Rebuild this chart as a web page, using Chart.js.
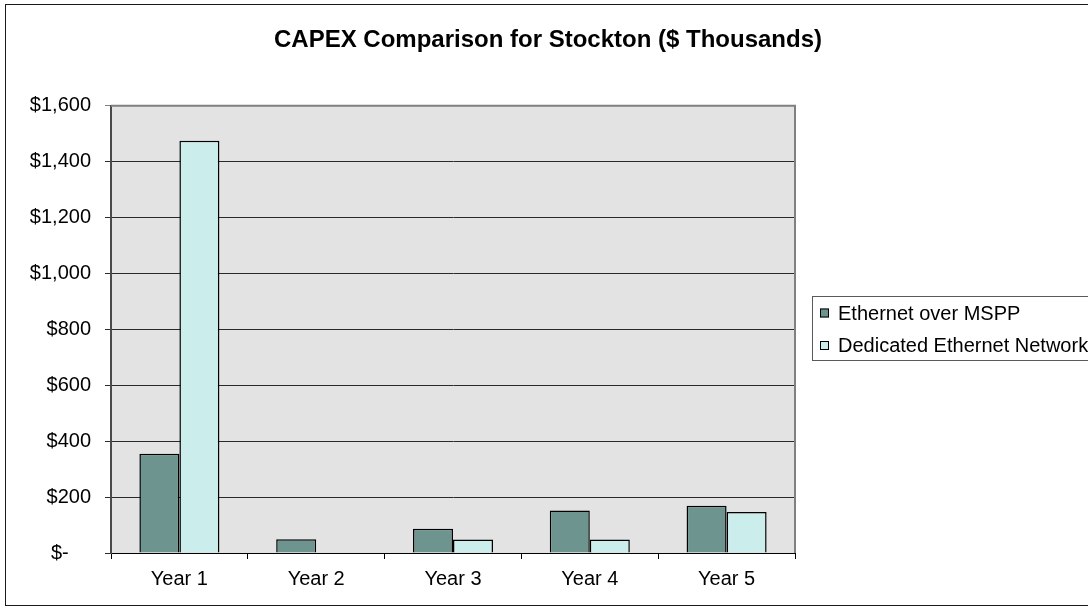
<!DOCTYPE html>
<html>
<head>
<meta charset="utf-8">
<title>CAPEX Comparison for Stockton</title>
<script src="https://cdn.jsdelivr.net/npm/chart.js@4"></script>
<style>
  html, body { margin: 0; padding: 0; background: #ffffff; }
  #wrap { position: relative; width: 1088px; height: 614px; }
</style>
</head>
<body>
<div id="wrap"><canvas id="chart" width="1088" height="614"></canvas></div>
<script>
// Capital expenditure per year, in thousands of dollars
const years = ['Year 1', 'Year 2', 'Year 3', 'Year 4', 'Year 5'];
const ethernetOverMspp = [355, 49, 87, 152, 169];
const dedicatedEthernet = [1475, 0, 48, 48, 147];
const seriesNames = ['Ethernet over MSPP', 'Dedicated Ethernet Network'];
const seriesColors = ['#6E948F', '#CBEDEB'];
const yTicks = [0, 200, 400, 600, 800, 1000, 1200, 1400, 1600];

const FONT = "'Liberation Sans', Arial, sans-serif";

function money(v) {
  if (v === 0) return '$-    ';
  return '$' + v.toLocaleString('en-US');
}

// Frame around the whole chart and the grey plot background
const frame = {
  id: 'frame',
  beforeDraw(chart) {
    const { ctx, chartArea: a } = chart;
    ctx.save();
    ctx.fillStyle = '#ffffff';
    ctx.fillRect(0, 0, chart.width, chart.height);
    ctx.strokeStyle = '#1a1a1a';
    ctx.lineWidth = 1;
    ctx.strokeRect(5.5, 4.5, chart.width + 20, 601);
    ctx.fillStyle = '#E3E3E3';
    ctx.fillRect(a.left, a.top, a.right - a.left, a.bottom - a.top);
    ctx.restore();
  },
  afterDatasetsDraw(chart) {
    const { ctx, chartArea: a } = chart;
    ctx.save();
    ctx.strokeStyle = '#808080';
    ctx.lineWidth = 2;
    ctx.beginPath();
    ctx.moveTo(a.left, a.top);
    ctx.lineTo(a.right, a.top);
    ctx.lineTo(a.right, a.bottom);
    ctx.stroke();
    ctx.restore();
  }
};

// Boxed legend to the right of the plot
const boxedLegend = {
  id: 'boxedLegend',
  afterDraw(chart) {
    const { ctx, chartArea: a } = chart;
    const left = a.right + 17;
    const top = 296.5;
    const rowGap = 32.5;
    ctx.save();
    ctx.strokeStyle = '#5a5a5a';
    ctx.lineWidth = 1;
    ctx.strokeRect(left + 0.5, top, chart.width, 64);
    ctx.font = '20px ' + FONT;
    ctx.textBaseline = 'middle';
    ctx.textAlign = 'left';
    chart.data.datasets.forEach((ds, i) => {
      const cy = top + 16.5 + i * rowGap;
      ctx.fillStyle = ds.backgroundColor;
      ctx.fillRect(left + 8, cy - 4.5, 9, 9);
      ctx.strokeStyle = '#000';
      ctx.strokeRect(left + 8.5, cy - 4, 8, 8);
      ctx.fillStyle = '#000';
      ctx.fillText(ds.label, left + 26, cy + 1);
    });
    ctx.restore();
  }
};

new Chart(document.getElementById('chart'), {
  type: 'bar',
  data: {
    labels: years,
    datasets: [
      { label: seriesNames[0], data: ethernetOverMspp, backgroundColor: seriesColors[0],
        borderColor: '#000', borderWidth: 1.5 },
      { label: seriesNames[1], data: dedicatedEthernet, backgroundColor: seriesColors[1],
        borderColor: '#000', borderWidth: 1.5 }
    ]
  },
  options: {
    responsive: false,
    animation: false,
    layout: { padding: { left: 8, right: 0, top: 0, bottom: 0 } },
    datasets: { bar: { categoryPercentage: 0.585, barPercentage: 1 } },
    plugins: {
      legend: { display: false },
      tooltip: { enabled: false },
      title: {
        display: true,
        text: 'CAPEX Comparison for Stockton ($ Thousands)',
        color: '#000',
        font: { family: FONT, size: 24, weight: 'bold' },
        padding: { top: 26, bottom: 51 }
      }
    },
    scales: {
      x: {
        grid: { display: true, drawOnChartArea: false, offset: true, tickLength: 6, color: '#000' },
        border: { display: true, color: '#000', width: 1 },
        ticks: { color: '#000', font: { family: FONT, size: 20 }, padding: 8, maxRotation: 0 },
        afterFit(s) { s.height = 61; }
      },
      y: {
        min: 0,
        max: 1600,
        afterBuildTicks(s) { s.ticks = yTicks.map(v => ({ value: v })); },
        grid: {
          color: c => (c.tick && c.tick.value === 1600 ? '#808080' : '#2a2a2a'),
          tickLength: 6,
          lineWidth: 1
        },
        border: { display: true, color: '#4a4a4a', width: 2 },
        ticks: { color: '#000', font: { family: FONT, size: 20 }, padding: 14, callback: v => money(v) },
        afterFit(s) { s.width = 103; }
      },
      spacer: {
        type: 'linear',
        position: 'right',
        display: true,
        grid: { display: false },
        border: { display: false },
        ticks: { display: false },
        afterFit(s) { s.width = 293; }
      }
    }
  },
  plugins: [frame, boxedLegend]
});
</script>
</body>
</html>
